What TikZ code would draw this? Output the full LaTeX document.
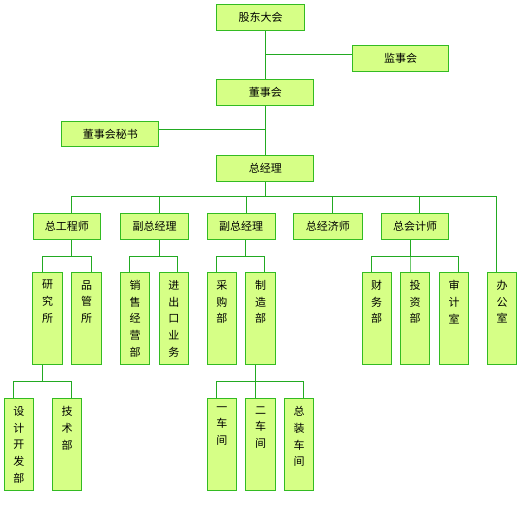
\documentclass[tikz,border=0pt]{standalone}
\usepackage{fontspec}
\usepackage{tikz}
\usetikzlibrary{positioning,calc}
\newfontfamily\cjk{Noto Sans CJK SC}
\definecolor{bg}{HTML}{D6FF86}
\definecolor{bd}{HTML}{33BB22}
\definecolor{ln}{HTML}{22AA22}
\newcommand{\vtext}[1]{\parbox[c][76pt][t]{16pt}{\centering #1}}
\tikzset{
  hbox/.style={draw=bd,fill=bg,line width=1pt,minimum height=26pt,inner sep=0pt,
    font=\cjk\fontsize{11}{16.7}\selectfont,text=black},
  vbox/.style={hbox,minimum width=29.4pt,minimum height=92pt,inner xsep=0pt,inner ysep=8pt},
  wire/.style={draw=ln,line width=1pt},
}
\begin{document}
\begin{tikzpicture}[x=1pt,y=-1pt]
\useasboundingbox (0,0) rectangle (520,504);
\coordinate (b0) at (0,196);
\coordinate (b1) at (0,256);
\coordinate (b2) at (0,381.7);
% top
\node[hbox,minimum width=87.6pt] (gd) at (260.5,17) {股东大会};
\node[hbox,minimum width=96.4pt] (js) at (400.5,58.3) {监事会};
\node[hbox,minimum width=97pt] (dsh) at (265.3,92.3) {董事会};
\node[hbox,minimum width=97.3pt,minimum height=25.4pt] (ms) at (110.3,134) {董事会秘书};
\node[hbox,minimum width=97pt] (zjl) at (265.3,168) {总经理};
% level 2
\node[hbox,minimum width=67.4pt] (zgcs) at (67,226.3) {总工程师};
\node[hbox,minimum width=68.4pt] (fz1) at (154.5,226.3) {副总经理};
\node[hbox,minimum width=68.3pt] (fz2) at (241.2,226.3) {副总经理};
\node[hbox,minimum width=68.3pt] (zjjs) at (327.9,226.3) {总经济师};
\node[hbox,minimum width=67pt] (zkjs) at (415.2,226.3) {总会计师};
% level 3
\node[vbox] (yjs) at (47.5,318.3) {\vtext{研\\究\\所}};
\node[vbox] (pgs) at (86.5,318.3) {\vtext{品\\管\\所}};
\node[vbox] (xsjy) at (135,318.3) {\vtext{销\\售\\经\\营\\部}};
\node[vbox] (jcky) at (173.9,318.3) {\vtext{进\\出\\口\\业\\务}};
\node[vbox] (cgb) at (221.9,318.3) {\vtext{采\\购\\部}};
\node[vbox] (zzb) at (260.5,318.3) {\vtext{制\\造\\部}};
\node[vbox] (cwb) at (376.7,318.3) {\vtext{财\\务\\部}};
\node[vbox] (tzb) at (415.2,318.3) {\vtext{投\\资\\部}};
\node[vbox] (sjs) at (454,318.3) {\vtext{审\\计\\室}};
\node[vbox] (bgs) at (502,318.3) {\vtext{办\\公\\室}};
% level 4
\node[vbox] (sjkf) at (18.9,444.5) {\vtext{设\\计\\开\\发\\部}};
\node[vbox] (jsb) at (67,444.5) {\vtext{技\\术\\部}};
\node[vbox] (yc) at (221.9,444.5) {\vtext{一\\车\\间}};
\node[vbox] (ec) at (260.5,444.5) {\vtext{二\\车\\间}};
\node[vbox] (zzcj) at (299,444.5) {\vtext{总\\装\\车\\间}};
% wires
\draw[wire] (dsh.north) -- (dsh.north |- gd.south);
\draw[wire] ([yshift=4.3pt]js.west) -- ([yshift=4.3pt]js.west -| dsh.north);
\draw[wire] (dsh.south) -- (zjl.north);
\draw[wire] ([yshift=4.3pt]ms.east) -- ([yshift=4.3pt]ms.east -| zjl.north);
\foreach \p/\px/\c/\cx/\b in {zjl/0/zgcs/4/b0,zjl/0/fz1/4.5/b0,zjl/0/fz2/4.8/b0,
    zjl/0/zjjs/5/b0,zjl/0/zkjs/4/b0,zjl/0/bgs/-5.3/b0,
    zgcs/4/yjs/-4.8/b1,zgcs/4/pgs/4.8/b1,
    fz1/4.5/xsjy/-5.3/b1,fz1/4.5/jcky/3.4/b1,
    fz2/4.5/cgb/-5.2/b1,fz2/4.5/zzb/3.8/b1,
    zkjs/-5.2/cwb/-5/b1,zkjs/-5.2/tzb/-5.2/b1,zkjs/-5.2/sjs/4/b1,
    yjs/-4.8/sjkf/-5.6/b2,yjs/-4.8/jsb/4/b2,
    zzb/-5.2/yc/-5.2/b2,zzb/-5.2/ec/-5.2/b2,zzb/-5.2/zzcj/4.3/b2}
  \draw[wire] ([xshift=\cx pt]\c.north) |- ([xshift=\px pt]\p.south |- \b)
    -- ([xshift=\px pt]\p.south);
\end{tikzpicture}
\end{document}
